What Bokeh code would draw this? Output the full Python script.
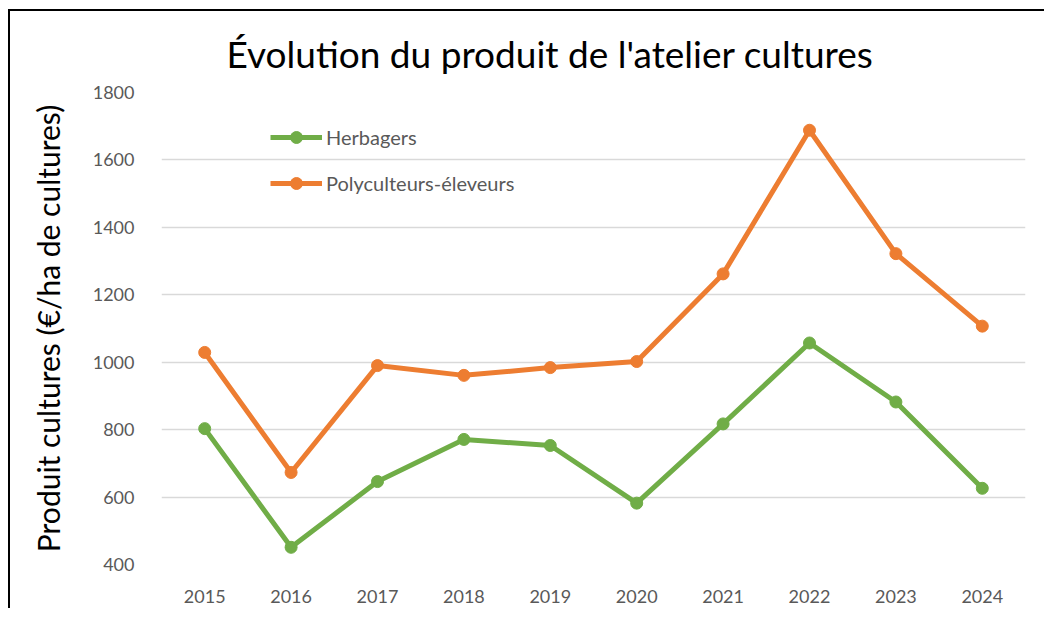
from bokeh.plotting import figure
from bokeh.models import Legend, LegendItem, FixedTicker, Range1d
from bokeh.embed import file_html
from bokeh.resources import INLINE

years = ["2015", "2016", "2017", "2018", "2019", "2020", "2021", "2022", "2023", "2024"]
herbagers = [803, 451, 646, 771, 753, 582, 817, 1057, 882, 626]
polyculteurs = [1029, 673, 990, 961, 984, 1002, 1262, 1688, 1322, 1107]
y_ticks = [400, 600, 800, 1000, 1200, 1400, 1600, 1800]

GREEN = "#70AD47"
ORANGE = "#ED7D31"
FONT = "Lato"

p = figure(x_range=years, y_range=Range1d(400, 1800), width=1036, height=599,
           output_backend="svg", toolbar_location=None,
           min_border_left=151, min_border_right=21, min_border_top=81, min_border_bottom=46)
p.styles = {"border-left": "2px solid black", "border-top": "2px solid black",
            "margin-left": "8px", "margin-top": "9px"}

p.title.text = "Évolution du produit de l'atelier cultures"
p.title.text_font = FONT
p.title.text_font_size = "37px"
p.title.text_font_style = "normal"
p.title.text_color = "black"
p.title.align = "left"
p.title.offset = 65
p.title.standoff = 34

p.outline_line_color = None
p.background_fill_color = "white"
p.border_fill_color = "white"

p.xgrid.grid_line_color = None
p.ygrid.grid_line_color = "#D9D9D9"
p.ygrid.grid_line_width = 1.5

p.yaxis.ticker = FixedTicker(ticks=y_ticks)
for ax in (p.xaxis[0], p.yaxis[0]):
    ax.axis_line_color = None
    ax.major_tick_line_color = None
    ax.minor_tick_line_color = None
    ax.major_label_text_font = FONT
    ax.major_label_text_font_size = "18px"
    ax.major_label_text_color = "#595959"
p.yaxis.major_label_standoff = 21
p.xaxis.major_label_standoff = 19
p.yaxis.axis_label = "Produit cultures (€/ha de cultures)"
p.yaxis.axis_label_text_font = FONT
p.yaxis.axis_label_text_font_size = "30px"
p.yaxis.axis_label_text_font_style = "normal"
p.yaxis.axis_label_text_color = "black"
p.yaxis.axis_label_standoff = 24

l1 = p.line(years, herbagers, line_color=GREEN, line_width=5)
c1 = p.scatter(years, herbagers, size=12, fill_color=GREEN, line_color=GREEN)
l2 = p.line(years, polyculteurs, line_color=ORANGE, line_width=5)
c2 = p.scatter(years, polyculteurs, size=12, fill_color=ORANGE, line_color=ORANGE)

legend = Legend(items=[LegendItem(label="Herbagers", renderers=[l1, c1]),
                       LegendItem(label="Polyculteurs-éleveurs", renderers=[l2, c2])],
                location=(109, 366), padding=0, margin=0, spacing=16,
                glyph_width=52, glyph_height=30, label_height=30, label_standoff=4,
                border_line_color=None, background_fill_alpha=0,
                label_text_font=FONT, label_text_font_size="20px", label_text_color="#595959")
p.add_layout(legend, "center")

open("out.html", "w").write(file_html(p, INLINE))
